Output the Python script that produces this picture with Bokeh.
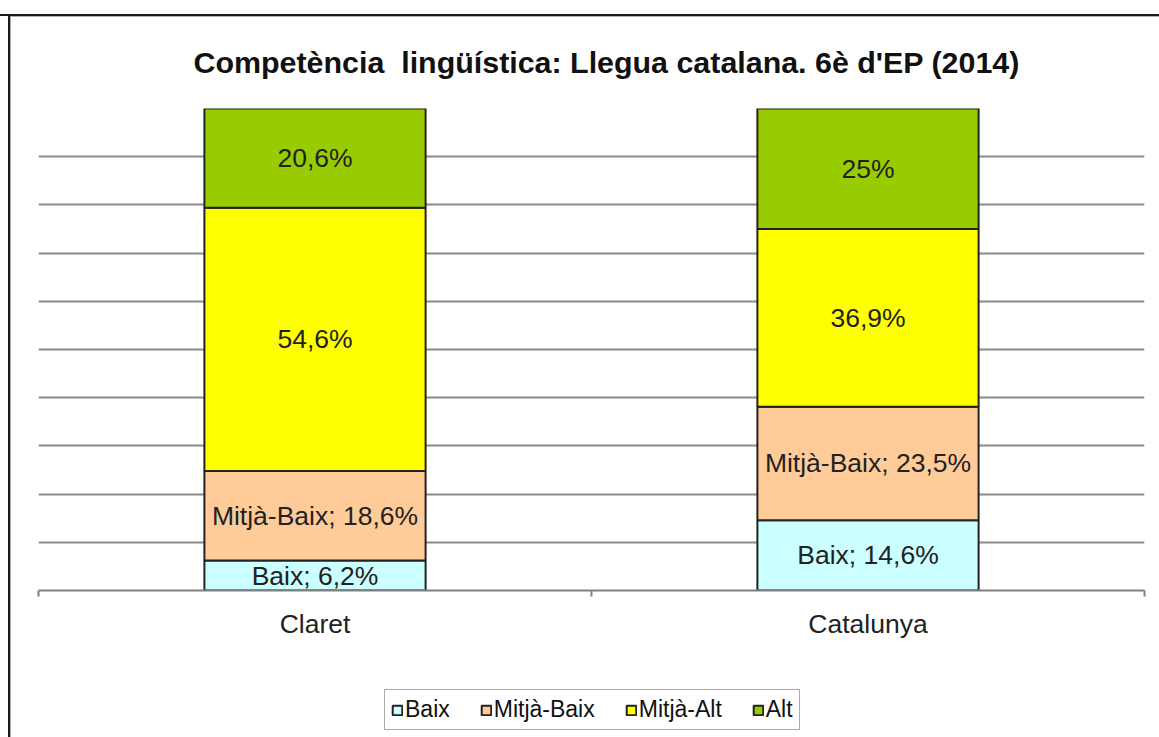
from bokeh.plotting import figure
from bokeh.models import ColumnDataSource, FixedTicker, Legend, LegendItem
from bokeh.layouts import column
from bokeh.core.properties import value
from bokeh.embed import file_html
from bokeh.resources import INLINE

# ---- data ----
categories = ["Claret", "Catalunya"]
series_names = ["Baix", "Mitjà-Baix", "Mitjà-Alt", "Alt"]
baix = [6.2, 14.6]
mitja_baix = [18.6, 23.5]
mitja_alt = [54.6, 36.9]
alt = [20.6, 25.0]
series_colors = ["#CCFFFF", "#FFCC99", "#FFFF00", "#99CC00"]
label_with_name = [True, True, False, False]
y_ticks = [0, 10, 20, 30, 40, 50, 60, 70, 80, 90]
title_text = "Competència\u00a0 lingüística: Llegua catalana. 6è d'EP (2014)"

FONT = "Liberation Sans"
W, H_MAIN, H_LEG = 1159, 679, 58

series_values = [baix, mitja_baix, mitja_alt, alt]
keys = ["s0", "s1", "s2", "s3"]
xs = [i + 0.5 for i in range(len(categories))]
data = {"x": xs}
for k, v in zip(keys, series_values):
    data[k] = v
source = ColumnDataSource(data)

# ---------------- main chart ----------------
p = figure(width=W, height=H_MAIN, x_range=(0, len(categories)), y_range=(0, 100),
           output_backend="svg", toolbar_location=None,
           min_border_left=38, min_border_right=15, min_border_top=108, min_border_bottom=89)
p.border_fill_color = None

bar_kw = dict(x="x", width=0.4, source=source, fill_color=series_colors,
              line_color="#222222", line_width=2)
renderers = p.vbar_stack(keys, **bar_kw)

def fmt(v):
    return ("%g" % v).replace(".", ",") + "%"

lx, ly, lt = [], [], []
for ci in range(len(categories)):
    base = 0.0
    for si, vals in enumerate(series_values):
        v = vals[ci]
        lx.append(xs[ci])
        ly.append(base + v / 2)
        lt.append((series_names[si] + "; " if label_with_name[si] else "") + fmt(v))
        base += v
p.text(x=lx, y=ly, text=lt, text_align="center", text_baseline="middle",
       text_font=value(FONT), text_font_size="26.5px", text_color="#222222")

p.yaxis.visible = False
p.xgrid.visible = False
p.ygrid.ticker = FixedTicker(ticks=y_ticks)
p.ygrid.grid_line_color = "#8a8a8a"
p.ygrid.grid_line_width = 2
p.outline_line_color = None

ax = p.xaxis[0]
ax.ticker = FixedTicker(ticks=xs, minor_ticks=[float(i) for i in range(len(categories) + 1)])
ax.major_label_overrides = {x: c for x, c in zip(xs, categories)}
ax.major_tick_line_color = None
ax.major_tick_out = 6
ax.major_tick_in = 0
ax.minor_tick_line_color = "#808080"
ax.minor_tick_line_width = 2
ax.minor_tick_out = 6
ax.minor_tick_in = 0
ax.axis_line_color = "#808080"
ax.axis_line_width = 2
ax.major_label_text_font = FONT
ax.major_label_text_font_size = "26.5px"
ax.major_label_text_color = "#222222"
ax.major_label_standoff = 12

p.title.text = title_text
p.title.text_font = FONT
p.title.text_font_style = "bold"
p.title.text_font_size = "30.4px"
p.title.text_color = "#111111"
p.title.align = "left"
p.title.offset = 155
p.title.standoff = 60

# ---------------- legend strip ----------------
pl = figure(width=W, height=H_LEG, x_range=(0, len(categories)), y_range=(0, 100),
            output_backend="svg", toolbar_location=None,
            min_border=0, min_border_left=0, min_border_right=0,
            min_border_top=0, min_border_bottom=0)
pl.axis.visible = False
pl.grid.visible = False
pl.outline_line_color = None
pl.border_fill_color = None
pl.background_fill_color = None
leg_renderers = pl.vbar_stack(keys, **bar_kw)
for r in leg_renderers:
    r.visible = False

items = [LegendItem(label=n, renderers=[r]) for n, r in zip(series_names, leg_renderers)]
legend = Legend(items=items, orientation="horizontal", location=(346, 7),
                label_text_font=FONT, label_text_font_size="23px", label_text_color="#111111",
                glyph_width=12, glyph_height=12, label_standoff=2, spacing=30,
                padding=6, margin=0, border_line_color="#555555", border_line_width=1,
                background_fill_color="white", background_fill_alpha=1.0,
                inactive_fill_alpha=0.0)
pl.add_layout(legend, "center")

layout = column(p, pl, spacing=0)
layout.styles = {
    "background": ("linear-gradient(#1a1a1a,#1a1a1a) 0px 14px / 100% 2px no-repeat, "
                   "linear-gradient(#1a1a1a,#1a1a1a) 8px 14px / 2px 100% no-repeat, "
                   "linear-gradient(#b0b0b0,#b0b0b0) 10px 16px / 100% 1px no-repeat, "
                   "linear-gradient(#b0b0b0,#b0b0b0) 10px 16px / 1px 100% no-repeat, white")
}

open("out.html", "w").write(file_html(layout, INLINE))
